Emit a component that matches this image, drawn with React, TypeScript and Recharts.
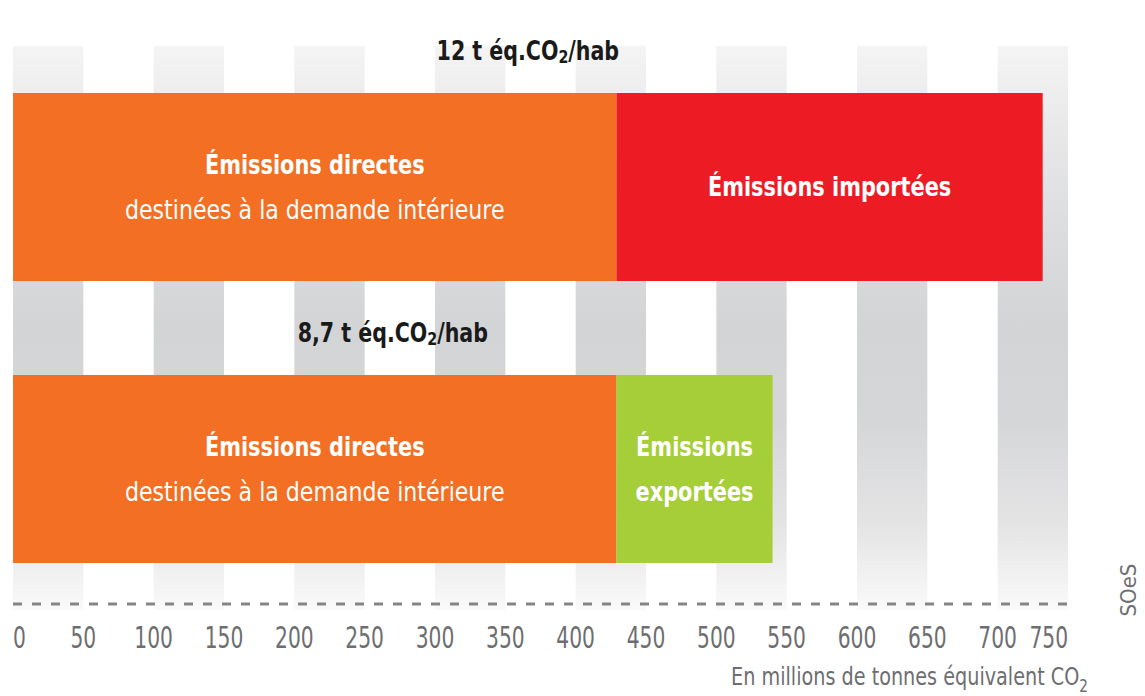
import { Bar, BarChart, ReferenceArea, XAxis, YAxis } from "recharts";

const categories = ["Empreinte carbone", "Émissions territoriales"];
const directValues = [429, 429];
const importedValues = [303, 0];
const exportedValues = [0, 111];
const perCapita = ["12", "8,7"];
const xTicks = [0, 50, 100, 150, 200, 250, 300, 350, 400, 450, 500, 550, 600, 650, 700, 750];

const directLabel = ["Émissions directes", "destinées à la demande intérieure"];
const importedLabel = ["Émissions importées"];
const exportedLabel = ["Émissions", "exportées"];

const FONT = "'DejaVu Sans Condensed', 'DejaVu Sans', sans-serif";

const data = categories.map((name, i) => ({
  name,
  direct: directValues[i],
  imported: importedValues[i],
  exported: exportedValues[i],
}));

// stripes on every other 50-unit band: 0-50, 100-150, ...
const stripes = xTicks.slice(0, -1).map((t, i) => ({ x1: t, x2: xTicks[i + 1] })).filter((_, i) => i % 2 === 0);

// condensed text: the original font is a narrow one, so squeeze horizontally
function Txt({ x, y, sx, children, ...rest }: any) {
  return (
    <text transform={`translate(${x} ${y}) scale(${sx} 1)`} x={0} y={0} fontFamily={FONT} {...rest}>
      {children}
    </text>
  );
}

function segmentLabel(lines: string[], boldAll: boolean) {
  return (props: any) => {
    const { x, y, width, height, value } = props;
    if (!value) return null;
    const cx = x + width / 2;
    const cy = y + height / 2;
    const step = 45;
    const start = cy - ((lines.length - 1) * step) / 2;
    return (
      <g>
        {lines.map((l, i) => {
          const bold = boldAll || i === 0;
          return (
            <Txt key={i} x={cx} y={start + i * step} sx={bold ? 0.86 : 0.91} textAnchor="middle"
              dominantBaseline="central" fill="#fff" fontSize={27} fontWeight={bold ? 700 : 400}>
              {l}
            </Txt>
          );
        })}
      </g>
    );
  };
}

function DirectLabel(props: any) {
  const { x, y, width, height, value, index } = props;
  const total = directValues[index] + importedValues[index] + exportedValues[index];
  const cx = x + (width * total) / value / 2;
  return (
    <g>
      {segmentLabel(directLabel, false)({ x, y, width, height, value })}
      <Txt x={cx} y={y - 43} sx={0.88} textAnchor="middle" dominantBaseline="central" fontSize={26}
        fontWeight={700} fill="#1a1a1a">
        <tspan>{perCapita[index]} t éq.CO</tspan>
        <tspan dy={7} fontSize={18}>2</tspan>
        <tspan dy={-7}>/hab</tspan>
      </Txt>
    </g>
  );
}

function Tick(props: any) {
  const { x, y, payload } = props;
  const v = payload.value;
  const anchor = v === xTicks[0] ? "start" : v === xTicks[xTicks.length - 1] ? "end" : "middle";
  return (
    <Txt x={x} y={y + 44} sx={0.75} textAnchor={anchor} fontSize={30} fill="#6d6e71">
      {v}
    </Txt>
  );
}

export default function App() {
  return (
    <div style={{ position: "absolute", left: 0, top: 0, width: 1145, height: 696, background: "#fff" }}>
      <BarChart width={1145} height={696} data={data} layout="vertical"
        margin={{ top: 10, right: 77, left: 13, bottom: 0 }}>
        <defs>
          <linearGradient id="stripeGrad" x1="0" y1="0" x2="0" y2="1">
            <stop offset="0" stopColor="#f4f4f4" />
            <stop offset="0.15" stopColor="#e8e8e9" />
            <stop offset="0.32" stopColor="#dcdddf" />
            <stop offset="0.5" stopColor="#d3d4d6" />
            <stop offset="0.66" stopColor="#d5d6d8" />
            <stop offset="0.85" stopColor="#e4e4e5" />
            <stop offset="1" stopColor="#fafafa" />
          </linearGradient>
        </defs>
        {stripes.map((s) => (
          <ReferenceArea key={s.x1} x1={s.x1} x2={s.x2} fill="url(#stripeGrad)" fillOpacity={1} stroke="none" />
        ))}
        <XAxis type="number" domain={[0, 750]} ticks={xTicks} interval={0} height={92}
          tickSize={0} tickMargin={0} tickLine={false} tick={<Tick />}
          axisLine={{ stroke: "#858585", strokeWidth: 3, strokeDasharray: "9 10" }} />
        <YAxis type="category" dataKey="name" hide padding={{ top: 36, bottom: -6 }} />
        <Bar dataKey="direct" stackId="a" fill="#f26f23" barSize={188} isAnimationActive={false}
          label={(p: any) => <DirectLabel {...p} />} />
        <Bar dataKey="imported" stackId="a" fill="#ed1c24" barSize={188} isAnimationActive={false}
          label={segmentLabel(importedLabel, true)} />
        <Bar dataKey="exported" stackId="a" fill="#a6ce39" barSize={188} isAnimationActive={false}
          label={segmentLabel(exportedLabel, true)} />
        <Txt x={1088} y={685} sx={0.89} textAnchor="end" fontSize={24} fill="#6d6e71">
          <tspan>En millions de tonnes équivalent CO</tspan>
          <tspan dy={7} fontSize={17}>2</tspan>
        </Txt>
        <text x={1136} y={590} transform="rotate(-90 1136 590)" textAnchor="middle" fontSize={22}
          fill="#6d6e71" fontFamily={FONT}>
          SOeS
        </text>
      </BarChart>
    </div>
  );
}
